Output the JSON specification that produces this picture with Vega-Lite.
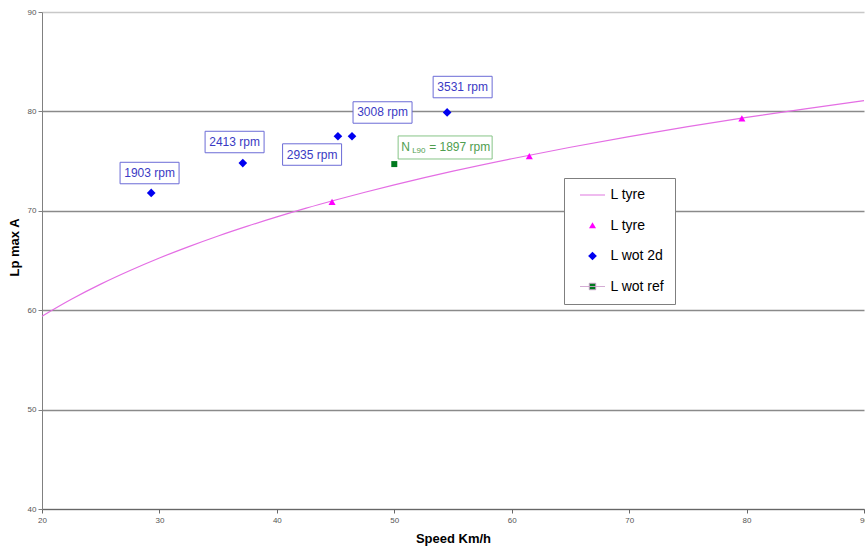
{
  "$schema": "https://vega.github.io/schema/vega-lite/v6.json",
  "width": 822,
  "height": 497,
  "autosize": {"type": "none"},
  "padding": {"left": 42, "top": 12, "right": 1, "bottom": 39},
  "background": "white",
  "config": {"view": {"stroke": null}, "font": "Liberation Sans"},
  "datasets": {
    "curve": [
      {"speed": 20, "lp": 59.4},
      {"speed": 22.5, "lp": 61.1},
      {"speed": 25, "lp": 62.62},
      {"speed": 27.5, "lp": 63.99},
      {"speed": 30, "lp": 65.25},
      {"speed": 32.5, "lp": 66.4},
      {"speed": 35, "lp": 67.47},
      {"speed": 37.5, "lp": 68.46},
      {"speed": 40, "lp": 69.39},
      {"speed": 42.5, "lp": 70.27},
      {"speed": 45, "lp": 71.09},
      {"speed": 47.5, "lp": 71.87},
      {"speed": 50, "lp": 72.61},
      {"speed": 55, "lp": 73.99},
      {"speed": 60, "lp": 75.24},
      {"speed": 65, "lp": 76.39},
      {"speed": 70, "lp": 77.46},
      {"speed": 75, "lp": 78.46},
      {"speed": 80, "lp": 79.39},
      {"speed": 85, "lp": 80.26},
      {"speed": 90, "lp": 81.09}
    ],
    "points": [
      {"speed": 44.7, "lp": 70.9, "series": "L tyre"},
      {"speed": 61.5, "lp": 75.5, "series": "L tyre"},
      {"speed": 79.6, "lp": 79.3, "series": "L tyre"},
      {"speed": 29.3, "lp": 71.8, "series": "L wot 2d"},
      {"speed": 37.1, "lp": 74.8, "series": "L wot 2d"},
      {"speed": 45.2, "lp": 77.5, "series": "L wot 2d"},
      {"speed": 46.4, "lp": 77.5, "series": "L wot 2d"},
      {"speed": 54.5, "lp": 79.9, "series": "L wot 2d"},
      {"speed": 50.0, "lp": 74.7, "series": "L wot ref"}
    ],
    "rpmLabels": [
      {"speed": 29.16, "lp": 73.8, "label": "1903 rpm"},
      {"speed": 36.4, "lp": 76.92, "label": "2413 rpm"},
      {"speed": 43.0, "lp": 75.66, "label": "2935 rpm"},
      {"speed": 49.0, "lp": 79.89, "label": "3008 rpm"},
      {"speed": 55.82, "lp": 82.45, "label": "3531 rpm"}
    ],
    "refLabel": [
      {"speed": 54.33, "lp": 76.37, "n": "N", "sub": "L90", "rest": "= 1897 rpm"}
    ]
  },
  "encoding": {
    "x": {
      "field": "speed",
      "type": "quantitative",
      "scale": {"domain": [20, 90], "nice": false, "zero": false},
      "axis": {
        "title": "Speed Km/h",
        "values": [20, 30, 40, 50, 60, 70, 80, 90],
        "grid": false,
        "tickSize": 4,
        "tickColor": "#666666",
        "domainColor": "#666666",
        "labelFontSize": 8,
        "labelColor": "#555555",
        "labelPadding": 3,
        "labelFlush": false,
        "labelOverlap": false,
        "titleFontSize": 13,
        "titleFontWeight": "bold",
        "titleColor": "#000000",
        "titlePadding": 8
      }
    },
    "y": {
      "field": "lp",
      "type": "quantitative",
      "scale": {"domain": [40, 90], "nice": false, "zero": false},
      "axis": {
        "title": "Lp max A",
        "values": [40, 50, 60, 70, 80, 90],
        "grid": true,
        "gridColor": {"condition": {"test": "datum.value === 90", "value": "#c8c8c8"}, "value": "#8a8a8a"},
        "gridWidth": 1.5,
        "tickSize": 4,
        "tickColor": "#808080",
        "domainColor": "#808080",
        "labelFontSize": 8,
        "labelColor": "#555555",
        "labelPadding": 2,
        "labelFlush": false,
        "labelOverlap": false,
        "titleFontSize": 13,
        "titleFontWeight": "bold",
        "titleColor": "#000000",
        "titlePadding": 6,
        "titleY": 235
      }
    }
  },
  "layer": [
    {
      "data": {"name": "curve"},
      "mark": {"type": "line", "color": "#e46ee4", "strokeWidth": 1.2, "interpolate": "monotone"},
      "encoding": {}
    },
    {
      "data": {"name": "rpmLabels"},
      "mark": {"type": "point", "shape": "M-1,-0.364H1V0.364H-1Z", "size": 3481, "filled": true, "fill": "white", "stroke": "#6b6bd6", "strokeWidth": 1, "opacity": 1},
      "encoding": {}
    },
    {
      "data": {"name": "rpmLabels"},
      "mark": {"type": "text", "fontSize": 12, "color": "#3a3ac4", "align": "center", "baseline": "middle"},
      "encoding": {"text": {"field": "label"}}
    },
    {
      "data": {"name": "refLabel"},
      "mark": {"type": "point", "shape": "M-1,-0.245H1V0.245H-1Z", "size": 8836, "filled": true, "fill": "white", "stroke": "#86c486", "strokeWidth": 1, "opacity": 1},
      "encoding": {}
    },
    {
      "data": {"name": "refLabel"},
      "mark": {"type": "text", "fontSize": 12, "color": "#4f9e4f", "align": "left", "baseline": "middle", "dx": -44},
      "encoding": {"text": {"field": "n"}}
    },
    {
      "data": {"name": "refLabel"},
      "mark": {"type": "text", "fontSize": 8, "color": "#4f9e4f", "align": "left", "baseline": "middle", "dx": -33, "dy": 3.5},
      "encoding": {"text": {"field": "sub"}}
    },
    {
      "data": {"name": "refLabel"},
      "mark": {"type": "text", "fontSize": 12, "color": "#4f9e4f", "align": "left", "baseline": "middle", "dx": -16},
      "encoding": {"text": {"field": "rest"}}
    },
    {
      "data": {"name": "points"},
      "transform": [{"filter": "datum.series === 'L tyre'"}],
      "mark": {"type": "point", "filled": true, "opacity": 1, "shape": "triangle-up", "size": 50},
      "encoding": {
        "color": {
          "field": "series",
          "type": "nominal",
          "scale": {"domain": ["curve", "L tyre", "L wot 2d", "L wot ref"], "range": ["#e46ee4", "#ff00ff", "#0000f0", "#007a1e"]},
          "legend": {
            "title": null,
            "orient": "none",
            "legendX": 522,
            "legendY": 166,
            "padding": 10,
            "strokeColor": "#7f7f7f",
            "fillColor": "white",
            "labelFontSize": 14,
            "labelColor": "#000000",
            "labelOffset": 11,
            "symbolOffset": 11.5,
            "rowPadding": 16.5,
            "symbolSize": 100,
            "symbolOpacity": 1,
            "symbolStrokeWidth": {"expr": "datum.value === 'L wot ref' ? 0.9 : 1.2"},
            "symbolType": {"expr": "datum.value === 'curve' ? 'M-2.5,0H2.5' : datum.value === 'L wot ref' ? 'M-2.5,0H2.5M-0.65,-0.65H0.65V0.65H-0.65Z' : datum.value === 'L tyre' ? 'M0,-0.65L0.7,0.55L-0.7,0.55Z' : 'M0,-0.87L0.87,0L0,0.87L-0.87,0Z'"},
            "symbolStrokeColor": {"expr": "datum.value === 'curve' ? '#e58ee5' : datum.value === 'L wot ref' ? '#cfa3cf' : 'transparent'"},
            "labelExpr": "datum.label === 'curve' ? 'L tyre' : datum.label"
          }
        }
      }
    },
    {
      "data": {"name": "points"},
      "transform": [{"filter": "datum.series === 'L wot 2d'"}],
      "mark": {"type": "point", "filled": true, "opacity": 1, "shape": "diamond", "size": 75},
      "encoding": {
        "color": {"field": "series", "type": "nominal"}
      }
    },
    {
      "data": {"name": "points"},
      "transform": [{"filter": "datum.series === 'L wot ref'"}],
      "mark": {"type": "point", "filled": true, "opacity": 1, "shape": "square", "size": 36},
      "encoding": {
        "color": {"field": "series", "type": "nominal"}
      }
    }
  ]
}
